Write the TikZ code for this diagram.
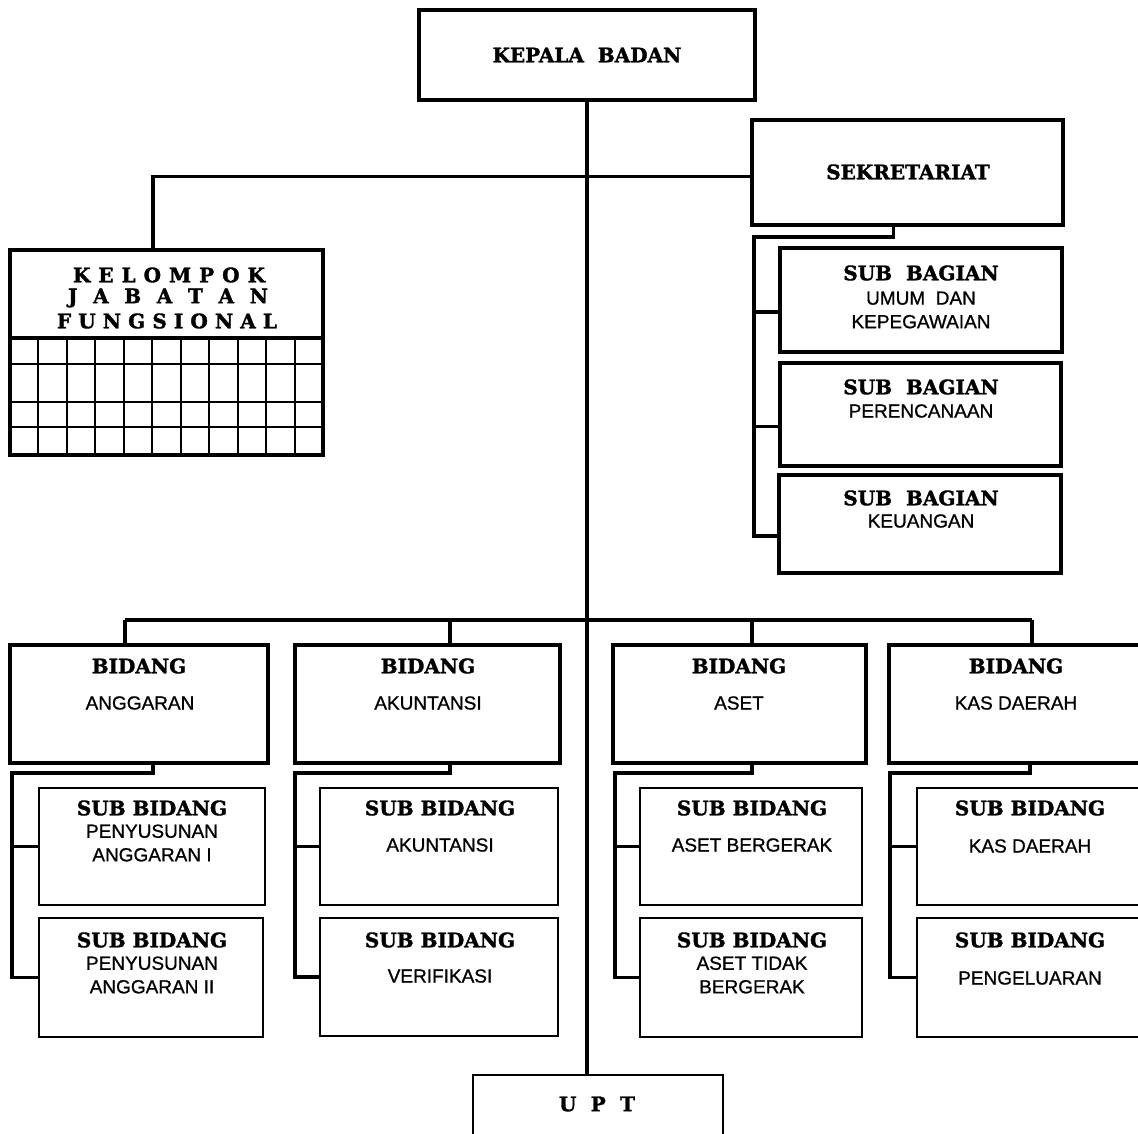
\documentclass[tikz,border=0pt]{standalone}
\usepackage{fontspec}
\setmainfont{DejaVu Serif}
\newfontfamily\headfont{DejaVu Serif}[BoldFeatures={FakeBold=1.6}]
\newfontfamily\unitfont{Liberation Sans}[FakeBold=0.9]
\usepackage{tikz}
\usetikzlibrary{fit}

\tikzset{
  box/.style={draw, line width=2.2pt, inner sep=0pt},
  subbox/.style={draw, line width=1.3pt, inner sep=0pt},
  head/.style={font=\headfont\bfseries\fontsize{10}{12}\selectfont},
  unit/.style={font=\unitfont\fontsize{9.5}{11.8}\selectfont, align=center},
  link/.style={line width=1.6pt},
  grid/.style={line width=1pt},
}

\begin{document}
\begin{tikzpicture}[x=0.5pt,y=-0.5pt]
\useasboundingbox (0,0) rectangle (1138,1133);

% Kepala and Sekretariat
\node[box, fit={(419,10) (755,100)}] (kepala) {};
\node[head] (kepalaT) at (kepala.center) {KEPALA\ \ BADAN};
\node[box, fit={(752,120) (1063,225)}] (sekre) {};
\node[head] (sekreT) at (908,172) {SEKRETARIAT};

% Sub bagian
\node[box, fit={(780,248) (1062,352)}] (sb1) {};
\node[head] (sb1T) at (921,273) {SUB\ \ BAGIAN};
\node[unit] (sb1U) at (921,310) {UMUM\ \ DAN\\KEPEGAWAIAN};
\node[box, fit={(780,363) (1061,466)}] (sb2) {};
\node[head] (sb2T) at (921,387) {SUB\ \ BAGIAN};
\node[unit] (sb2U) at (921,411) {PERENCANAAN};
\node[box, fit={(779,475) (1061,573)}] (sb3) {};
\node[head] (sb3T) at (921,498) {SUB\ \ BAGIAN};
\node[unit] (sb3U) at (921,521) {KEUANGAN};

% Kelompok jabatan fungsional
\node[box, fit={(10,250) (323,455)}] (kjf) {};
\node[head] (kjf1) at (169,275) {\makebox[96pt]{K\hfill E\hfill L\hfill O\hfill M\hfill P\hfill O\hfill K}};
\node[head] (kjf2) at (168,298) {\makebox[100pt]{J\hfill A\hfill B\hfill A\hfill T\hfill A\hfill N}};
\node[head] (kjf3) at (167,321) {\makebox[110pt]{F\hfill U\hfill N\hfill G\hfill S\hfill I\hfill O\hfill N\hfill A\hfill L}};
\draw[line width=1.8pt] (kjf.west |- 0,338) -- (kjf.east |- 0,338);
\foreach \i in {1,...,10}
  \draw[grid] ({10+\i*28.45},338) -- ({10+\i*28.45},455);
\foreach \y in {364,402,427}
  \draw[grid] (10,\y) -- (323,\y);

% Bidang
\node[box, fit={(10,645) (268,763)}] (bAng) {};
\node[head] (bAngT) at (139,666) {BIDANG};
\node[unit] (bAngU) at (140,703) {ANGGARAN};
\node[box, fit={(295,645) (560,763)}] (bAku) {};
\node[head] (bAkuT) at (428,666) {BIDANG};
\node[unit] (bAkuU) at (428,703) {AKUNTANSI};
\node[box, fit={(613,645) (866,763)}] (bAse) {};
\node[head] (bAseT) at (739,666) {BIDANG};
\node[unit] (bAseU) at (739,703) {ASET};
\node[box, fit={(889,645) (1150,763)}] (bKas) {};
\node[head] (bKasT) at (1016,666) {BIDANG};
\node[unit] (bKasU) at (1016,703) {KAS DAERAH};

% Sub bidang
\node[subbox, fit={(39,788) (265,905)}] (sAng1) {};
\node[head] (sAng1T) at (152,808) {SUB BIDANG};
\node[unit] (sAng1U) at (152,843) {PENYUSUNAN\\ANGGARAN I};
\node[subbox, fit={(39,918) (263,1037)}] (sAng2) {};
\node[head] (sAng2T) at (152,940) {SUB BIDANG};
\node[unit] (sAng2U) at (152,975) {PENYUSUNAN\\ANGGARAN II};

\node[subbox, fit={(320,788) (558,905)}] (sAku1) {};
\node[head] (sAku1T) at (440,808) {SUB BIDANG};
\node[unit] (sAku1U) at (440,845) {AKUNTANSI};
\node[subbox, fit={(320,918) (558,1036)}] (sAku2) {};
\node[head] (sAku2T) at (440,940) {SUB BIDANG};
\node[unit] (sAku2U) at (440,976) {VERIFIKASI};

\node[subbox, fit={(640,788) (862,905)}] (sAse1) {};
\node[head] (sAse1T) at (752,808) {SUB BIDANG};
\node[unit] (sAse1U) at (752,845) {ASET BERGERAK};
\node[subbox, fit={(640,918) (862,1037)}] (sAse2) {};
\node[head] (sAse2T) at (752,940) {SUB BIDANG};
\node[unit] (sAse2U) at (752,975) {ASET TIDAK\\BERGERAK};

\node[subbox, fit={(917,788) (1150,905)}] (sKas1) {};
\node[head] (sKas1T) at (1030,808) {SUB BIDANG};
\node[unit] (sKas1U) at (1030,846) {KAS DAERAH};
\node[subbox, fit={(917,918) (1150,1037)}] (sKas2) {};
\node[head] (sKas2T) at (1030,940) {SUB BIDANG};
\node[unit] (sKas2U) at (1030,978) {PENGELUARAN};

% UPT
\node[subbox, fit={(473,1075) (723,1150)}] (upt) {};
\node[head] (uptT) at (597,1104) {\makebox[38pt]{U\hfill P\hfill T}};

% Connectors
\draw[line width=2pt] (kepala.south) -- (kepala.south |- upt.north);
\coordinate (kjfTop) at (153,250);
\draw[link] ([yshift=-2pt]sekre.west) -| (kjfTop);

\coordinate (sekreBus) at (754,237);
\draw[link] ([xshift=-7pt]sekre.south) |- (sekreBus) |- ([yshift=-6pt]sb3.west);
\draw[link] (sekreBus) |- ([yshift=-6pt]sb1.west);
\draw[link] (sekreBus) |- ([yshift=-6pt]sb2.west);

\coordinate (dAng) at (125,620);
\coordinate (dAku) at (450,620);
\coordinate (dAse) at (752,620);
\coordinate (dKas) at (1032,620);
\draw[link] (dAng) -- (dKas);
\draw[link] (dAng) -- (bAng.north -| dAng);
\draw[link] (dAku) -- (bAku.north -| dAku);
\draw[link] (dAse) -- (bAse.north -| dAse);
\draw[link] (dKas) -- (bKas.north -| dKas);

\coordinate (kAng) at (153,773);
\coordinate (jAng) at (12,773);
\draw[link] (bAng.south -| kAng) -- (kAng) -- (jAng) |- (sAng2.west);
\draw[link] (jAng) |- (sAng1.west);
\coordinate (kAku) at (450,773);
\coordinate (jAku) at (295,773);
\draw[link] (bAku.south -| kAku) -- (kAku) -- (jAku) |- (sAku2.west);
\draw[link] (jAku) |- (sAku1.west);
\coordinate (kAse) at (752,773);
\coordinate (jAse) at (615,773);
\draw[link] (bAse.south -| kAse) -- (kAse) -- (jAse) |- (sAse2.west);
\draw[link] (jAse) |- (sAse1.west);
\coordinate (kKas) at (1030,773);
\coordinate (jKas) at (890,773);
\draw[link] (bKas.south -| kKas) -- (kKas) -- (jKas) |- (sKas2.west);
\draw[link] (jKas) |- (sKas1.west);
\end{tikzpicture}
\end{document}
